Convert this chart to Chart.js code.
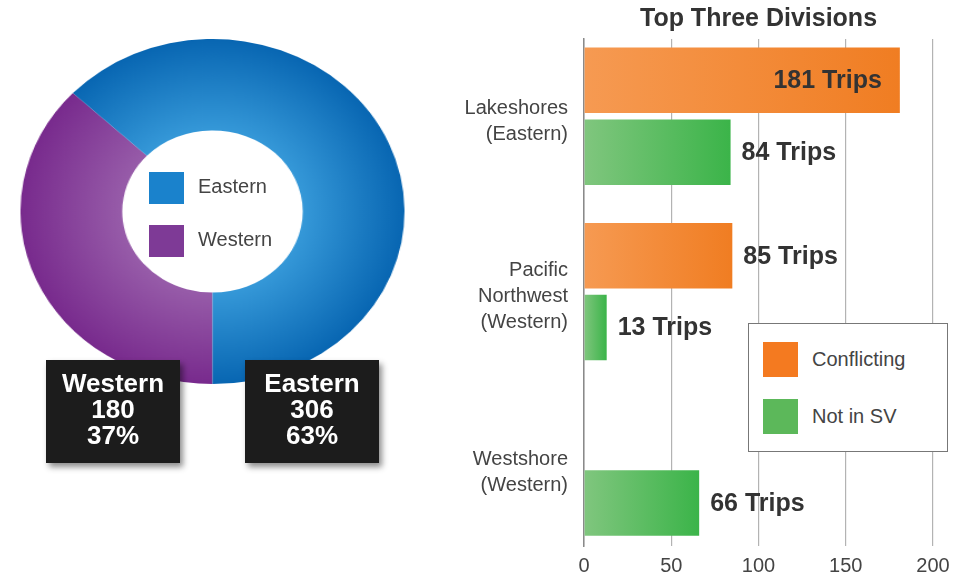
<!DOCTYPE html>
<html>
<head>
<meta charset="utf-8">
<script src="https://cdn.jsdelivr.net/npm/chart.js@4.4.1/dist/chart.umd.min.js"></script>
<style>
  html, body { margin: 0; background: #fff; }
  #page { position: relative; width: 969px; height: 578px; overflow: hidden; font-family: "Liberation Sans", Arial, sans-serif; }
  #donutWrap { position: absolute; left: 40px; top: 39px; width: 345px; height: 345px; transform: scaleX(1.113); transform-origin: 50% 50%; }
  #donutLegend { position: absolute; left: 149px; top: 172px; }
  .dl { display: flex; align-items: center; height: 32px; margin-bottom: 21px; font-size: 20px; color: #444; }
  .dl span.t { position: relative; top: -2px; }
  .dl .sw { width: 35px; height: 32px; margin-right: 14px; }
  .box { position: absolute; top: 360px; width: 134px; height: 103px; background: #1c1c1c; color: #fff; font-weight: bold;
         font-size: 26px; line-height: 26px; text-align: center; box-shadow: 3px 4px 6px rgba(0,0,0,.45);
         display: flex; flex-direction: column; justify-content: center; padding-bottom: 6px; box-sizing: border-box; }
  #barWrap { position: absolute; left: 440px; top: 0; width: 529px; height: 578px; }
  #barLegend { position: absolute; left: 748px; top: 323px; width: 198px; height: 127px; border: 1.5px solid #777; background: #fff; }
  .bl { position: absolute; left: 14px; display: flex; align-items: center; font-size: 20px; color: #444; }
  .bl .sw { width: 35px; height: 35px; margin-right: 14px; }
</style>
</head>
<body>
<div id="page">
  <div id="donutWrap"><canvas id="donut" width="345" height="345"></canvas></div>
  <div id="donutLegend"></div>
  <div id="boxes"></div>
  <div id="barWrap"><canvas id="bars" width="529" height="578"></canvas></div>
  <div id="barLegend"></div>
</div>
<script>
// data
const regions = ['Eastern', 'Western'];
const regionTrips = [306, 180];
const divisions = [['Lakeshores', '(Eastern)'], ['Pacific', 'Northwest', '(Western)'], ['Westshore', '(Western)']];
const conflicting = [181, 85, 0];
const notInSV = [84, 13, 66];
const xTicks = [0, 50, 100, 150, 200];

const C = {
  east: ['#3598d8', '#0866b2'], west: ['#975ca9', '#782a8d'],
  eastSw: '#1a82cc', westSw: '#7e3a96',
  orange: ['#f69a52', '#f07d22'], green: ['#80c67e', '#3bb449'],
  orangeSw: '#f47a20', greenSw: '#5cb85a',
  ink: '#333', muted: '#444', grid: '#b3b3b3',
};
const FONT = '"Liberation Sans", Arial, sans-serif';

Chart.defaults.font.family = FONT;
Chart.defaults.color = C.muted;

/* doughnut: West first so it starts at 6 o'clock */
const total = regionTrips.reduce((a, b) => a + b, 0);
const dLabels = [...regions].reverse();
const dData = [...regionTrips].reverse();
const dCols = [C.west, C.east];

function ringFill(ctx) {
  const [inner, outer] = dCols[ctx.dataIndex] || dCols[0];
  const a = ctx.chart.chartArea;
  if (!a || !isFinite(a.width) || a.width <= 0) return outer;
  const cx = (a.left + a.right) / 2, cy = (a.top + a.bottom) / 2, r = Math.min(a.width, a.height) / 2;
  const g = ctx.chart.ctx.createRadialGradient(cx, cy, r * 0.47, cx, cy, r);
  g.addColorStop(0, inner);
  g.addColorStop(1, outer);
  return g;
}

new Chart(document.getElementById('donut'), {
  type: 'doughnut',
  data: { labels: dLabels, datasets: [{ data: dData, backgroundColor: ringFill, borderWidth: 0 }] },
  options: {
    responsive: false, animation: false, cutout: '47%', rotation: 180,
    plugins: { legend: { display: false }, tooltip: { enabled: false } },
  },
});

document.getElementById('donutLegend').innerHTML = regions.map((r, i) => `
  <div class="dl"><span class="sw" style="background:${i === 0 ? C.eastSw : C.westSw}"></span><span class="t">${r}</span></div>`).join('');

// black value boxes under the ring
const boxLeft = { Western: 46, Eastern: 245 };
document.getElementById('boxes').innerHTML = dLabels.map((r, i) => `
  <div class="box" style="left:${boxLeft[r]}px"><div>${r}</div><div>${dData[i]}</div><div>${Math.round(dData[i] / total * 100)}%</div></div>`).join('');

/* horizontal bars */
const barFill = cols => ctx => {
  const x = ctx.chart.scales.x;
  if (!x || !ctx.raw) return cols[1];
  const x0 = x.getPixelForValue(0), x1 = x.getPixelForValue(ctx.raw.x);
  if (!isFinite(x0) || !isFinite(x1)) return cols[1];
  const g = ctx.chart.ctx.createLinearGradient(x0, 0, x1, 0);
  g.addColorStop(0, cols[0]);
  g.addColorStop(1, cols[1]);
  return g;
};

const tripLabels = {
  id: 'tripLabels',
  afterDatasetsDraw(chart) {
    const { ctx } = chart;
    ctx.save();
    ctx.font = `bold 25px ${FONT}`;
    ctx.fillStyle = C.ink;
    ctx.textBaseline = 'middle';
    chart.data.datasets.forEach((ds, di) => {
      chart.getDatasetMeta(di).data.forEach((bar, i) => {
        const v = ds.data[i].x;
        if (!v) return;
        const inside = v > 150;
        ctx.textAlign = inside ? 'right' : 'left';
        ctx.fillText(`${v} Trips`, inside ? bar.x - 18 : bar.x + 11, bar.y + 1);
      });
    });
    ctx.restore();
  },
};

new Chart(document.getElementById('bars'), {
  type: 'bar',
  data: {
    datasets: [
      { label: 'Conflicting', data: conflicting.map((v, i) => ({ x: v, y: i })), backgroundColor: barFill(C.orange),
        categoryPercentage: 0.82, barPercentage: 0.91 },
      { label: 'Not in SV', data: notInSV.map((v, i) => ({ x: v, y: i })), backgroundColor: barFill(C.green),
        categoryPercentage: 0.82, barPercentage: 0.91 },
    ],
  },
  options: {
    indexAxis: 'y', responsive: false, animation: false,
    layout: { padding: { right: 36 } },
    plugins: {
      legend: { display: false }, tooltip: { enabled: false },
      title: { display: true, fullSize: false, text: 'Top Three Divisions', color: C.ink,
               font: { size: 25, weight: 'bold' }, padding: { top: 4, bottom: 5 } },
    },
    scales: {
      x: {
        min: xTicks[0], max: xTicks[xTicks.length - 1],
        afterFit: s => { s.height = 32; },
        ticks: { stepSize: xTicks[1] - xTicks[0], padding: 8, font: { size: 20 } },
        grid: { color: C.grid, lineWidth: 1.2, drawTicks: false }, border: { display: false },
      },
      y: {
        type: 'linear', reverse: true, offset: false, min: -0.44, max: 2.45, bounds: 'data',
        afterFit: s => { s.width = 144; s.paddingTop = 0; s.paddingBottom = 0; },
        afterBuildTicks: s => { s.ticks = divisions.map((d, i) => ({ value: i })); },
        ticks: { autoSkip: false, padding: 16, labelOffset: 5,
                 font: { size: 20, lineHeight: 1.3 }, callback: v => divisions[v] },
        grid: { display: false, drawTicks: false }, border: { display: true, color: '#8a8a8a', width: 1.5 },
      },
    },
  },
  plugins: [tripLabels],
});

document.getElementById('barLegend').innerHTML = [
  { k: 'Conflicting', c: C.orangeSw, top: 18 },
  { k: 'Not in SV', c: C.greenSw, top: 75 },
].map(r => `<div class="bl" style="top:${r.top}px"><span class="sw" style="background:${r.c}"></span>${r.k}</div>`).join('');
</script>
</body>
</html>
